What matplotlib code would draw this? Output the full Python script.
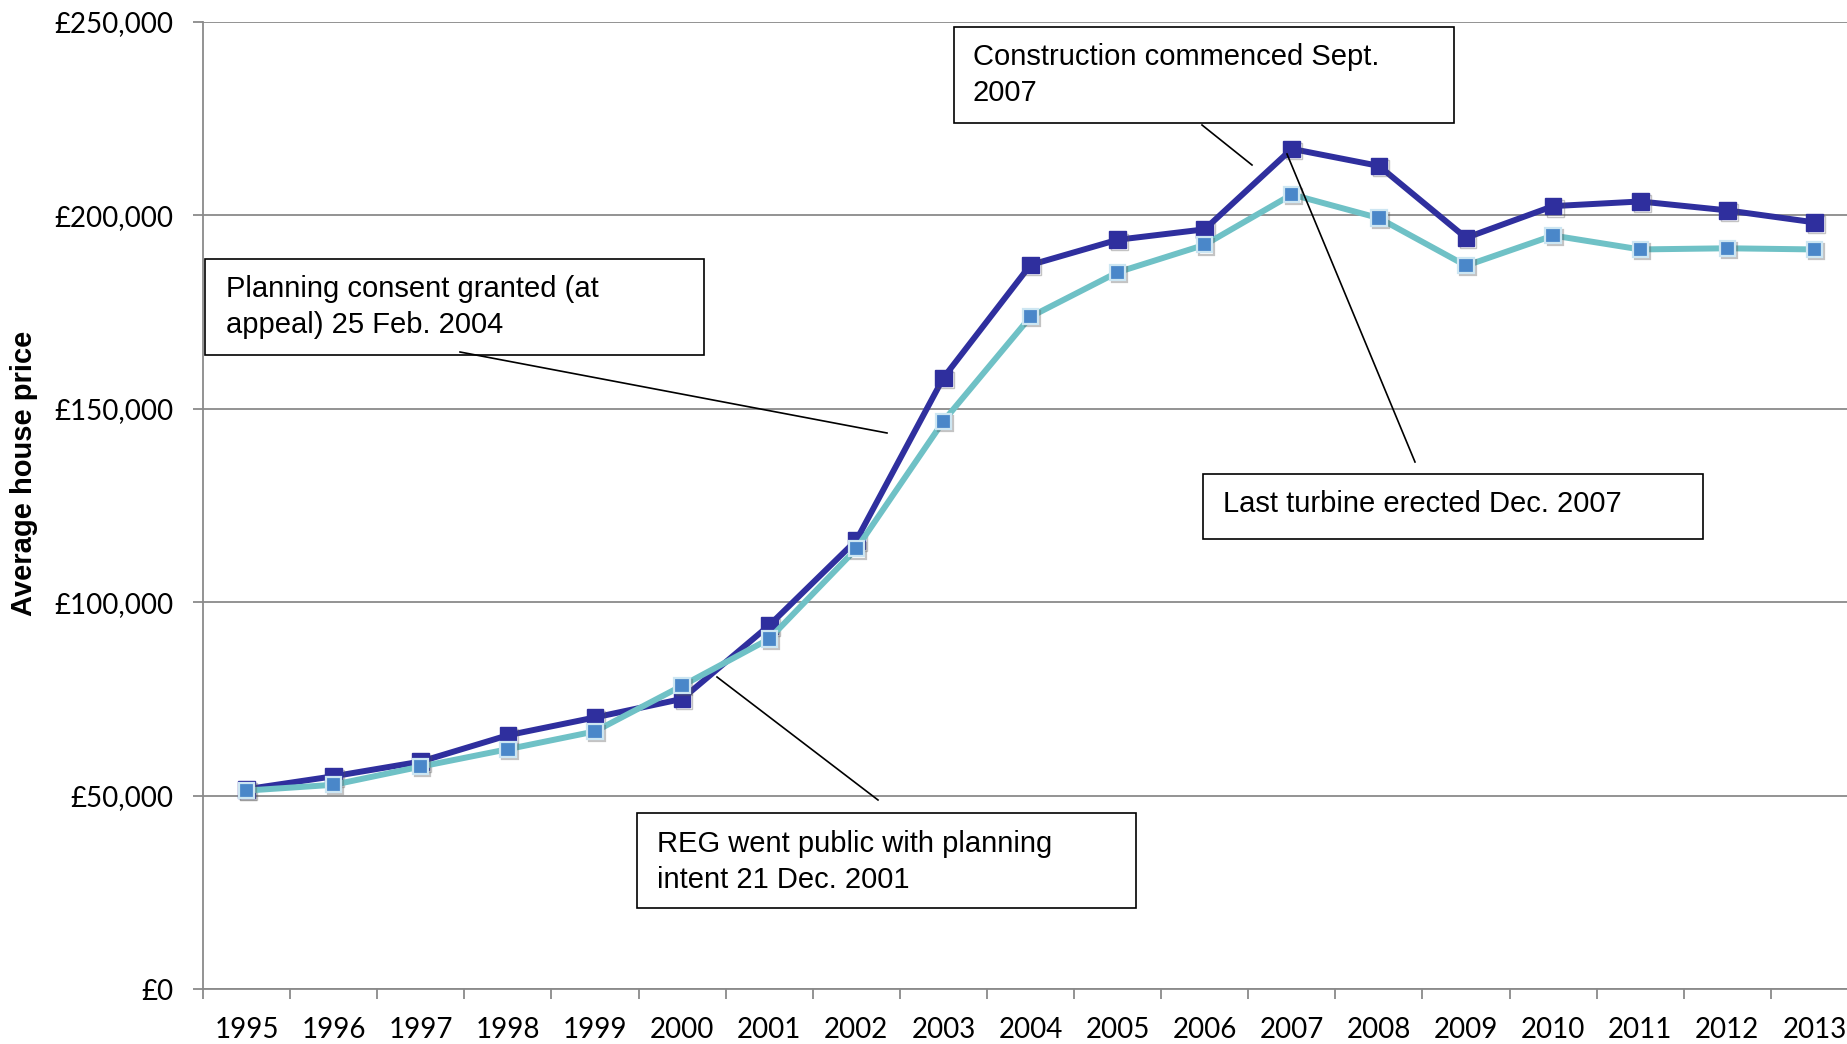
import matplotlib
matplotlib.use("Agg")
import matplotlib.pyplot as plt
import matplotlib.patheffects as pe
from matplotlib.patches import Rectangle
from matplotlib.lines import Line2D
import numpy as np

# data
years = [str(y) for y in range(1995, 2014)]
price_dark = [51650, 55000, 58800, 65600, 70200, 75000, 94000, 116000, 158000, 187200,
              193700, 196400, 217200, 212800, 194200, 202400, 203600, 201300, 198200]
price_light = [51300, 52800, 57500, 62000, 66600, 78400, 90500, 113800, 146800, 173800,
               185300, 192400, 205400, 199300, 187000, 194800, 191200, 191500, 191200]
yticks = [0, 50000, 100000, 150000, 200000, 250000]
ytick_labels = ["£0", "£50,000", "£100,000", "£150,000", "£200,000", "£250,000"]

W, H = 1847, 1044
fig = plt.figure(figsize=(W / 100, H / 100), dpi=100)
fig.patch.set_facecolor("white")


def fx(x):
    return x / W


def fy(y):
    return 1 - y / H


# axes runs past the right edge of the picture, like the original crop
ax = fig.add_axes([fx(203), 55 / H, 1655 / W, 967 / H])
x = np.arange(len(years))

grey = "#8a8a8a"
navy = "#2f2f9e"
teal = "#6fc1c6"

ax.set_xlim(-0.5, len(years) - 0.5)
ax.set_ylim(0, 250000)
ax.set_yticks(yticks)
ax.set_yticklabels(ytick_labels)
ax.set_xticks(x)
ax.set_xticklabels(years)
ax.set_xticks(np.arange(len(years) + 1) - 0.5, minor=True)
ax.yaxis.grid(True, color=grey, linewidth=1.3)
ax.set_axisbelow(True)
for s in ["top", "right"]:
    ax.spines[s].set_visible(False)
for s in ["left", "bottom"]:
    ax.spines[s].set_color(grey)
    ax.spines[s].set_linewidth(1.3)
ax.tick_params(axis="x", which="major", length=0, pad=20, labelsize=20)
ax.tick_params(axis="x", which="minor", length=7, width=1.3, color=grey)
ax.tick_params(axis="y", length=7, width=1.3, color=grey, pad=14, labelsize=20)
for lab in ax.get_xticklabels() + ax.get_yticklabels():
    lab.set_fontfamily("Lato")

shadow = [pe.SimpleLineShadow(offset=(1.5, -1.5), alpha=0.35, shadow_color="#555555"), pe.Normal()]

# dark series
ax.plot(x, price_dark, color=navy, lw=4.3, solid_joinstyle="miter", zorder=3)
ax.plot(x, price_dark, ls="none", marker="s", ms=12, color=navy, mec=navy,
        path_effects=shadow, zorder=4)
# light series
ax.plot(x, price_light, color=teal, lw=4.3, zorder=5)
ax.plot(x, price_light, ls="none", marker="s", ms=11, color="#4a87c9", mec="#cde6f2",
        mew=1.6, path_effects=shadow, zorder=6)

fig.text(fx(24), fy(473), "Average house price", rotation=90, ha="center", va="center",
         fontsize=21, fontweight="bold", family="Liberation Sans")

# annotation boxes: (box left, top, right, bottom), text xy, leader line
notes = [
    dict(text="Construction commenced Sept.\n2007", box=(954, 27, 1454, 123),
         txt=(973, 43), lead=((1202, 125), (1252, 165))),
    dict(text="Planning consent granted (at\nappeal) 25 Feb. 2004", box=(205, 259, 704, 355),
         txt=(226, 275), lead=((460, 352), (887, 433))),
    dict(text="Last turbine erected Dec. 2007", box=(1203, 474, 1703, 539),
         txt=(1223, 490), lead=((1287, 154), (1415, 462))),
    dict(text="REG went public with planning\nintent 21 Dec. 2001", box=(637, 813, 1136, 908),
         txt=(657, 830), lead=((717, 677), (878, 800))),
]
for n in notes:
    l, t, r, b = n["box"]
    fig.patches.append(Rectangle((fx(l), fy(b)), fx(r - l), (b - t) / H, transform=fig.transFigure,
                                 facecolor="white", edgecolor="black", linewidth=1.2, zorder=7))
    fig.text(fx(n["txt"][0]), fy(n["txt"][1]), n["text"], ha="left", va="top", fontsize=21,
             family="Liberation Sans", linespacing=1.38, zorder=8)
    (x0, y0), (x1, y1) = n["lead"]
    fig.lines.append(Line2D([fx(x0), fx(x1)], [fy(y0), fy(y1)], transform=fig.transFigure,
                            color="black", linewidth=1.2, zorder=9))

fig.savefig("out.png", dpi=100, facecolor="white")
